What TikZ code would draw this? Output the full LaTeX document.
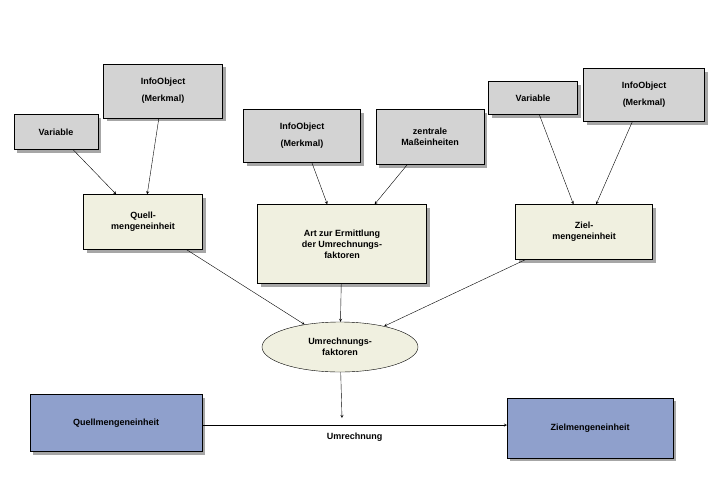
\documentclass[tikz,border=0pt]{standalone}
\usepackage{fontspec}
\setmainfont{Liberation Sans}
\usetikzlibrary{shadows,shapes.geometric}

\definecolor{boxgray}{RGB}{211,211,211}
\definecolor{boxcream}{RGB}{240,240,224}
\definecolor{boxblue}{RGB}{143,160,204}

\tikzset{
  box/.style={draw, inner sep=2pt, align=center, font=\bfseries\small,
    drop shadow={shadow xshift=3pt, shadow yshift=-3pt, fill=gray!70, opacity=1}},
  src/.style={box, fill=boxgray},
  mid/.style={box, fill=boxcream},
  res/.style={box, fill=boxblue},
  arr/.style={->, >=stealth}
}

\begin{document}
\begin{tikzpicture}[x=1pt,y=-1pt]
  \useasboundingbox (0,0) rectangle (720,480);

  % source objects
  \node[src, minimum width=84pt, minimum height=35pt] (varL) at (56,132) {Variable};
  \node[src, minimum width=119pt, minimum height=54pt] (infoL) at (163,91) {InfoObject\\[6pt](Merkmal)};
  \node[src, minimum width=117pt, minimum height=53pt] (infoM) at (302,136) {InfoObject\\[6pt](Merkmal)};
  \node[src, minimum width=108pt, minimum height=55pt] (zentral) at (430,137) {zentrale\\Maßeinheiten};
  \node[src, minimum width=89pt, minimum height=33pt] (varR) at (533,98) {Variable};
  \node[src, minimum width=121pt, minimum height=53pt] (infoR) at (644,95) {InfoObject\\[6pt](Merkmal)};

  % intermediate objects
  \node[mid, minimum width=119pt, minimum height=55pt] (quell) at (143,222) {Quell-\\mengeneinheit};
  \node[mid, minimum width=169pt, minimum height=79pt] (art) at (342,244) {Art zur Ermittlung\\der Umrechnungs-\\faktoren};
  \node[mid, minimum width=137pt, minimum height=55pt] (ziel) at (584,232) {Ziel-\\mengeneinheit};
  \node[ellipse, draw, fill=boxcream, minimum width=156pt, minimum height=50pt,
        align=center, font=\bfseries\small] (faktor) at (340,347) {Umrechnungs-\\faktoren};

  % result objects
  \node[res, minimum width=172pt, minimum height=57pt, anchor=west] (quellE) at (30,423) {Quellmengeneinheit};
  \node[res, minimum width=166pt, minimum height=60pt, anchor=west] (zielE) at (507,428) {Zielmengeneinheit};
  \coordinate (conv) at (342,418);

  \draw[arr] (varL) -- (quell);
  \draw[arr] (infoL) -- (quell);
  \draw[arr] (infoM) -- (art);
  \draw[arr] (zentral) -- (art);
  \draw[arr] (varR) -- (ziel);
  \draw[arr] (infoR) -- (ziel);
  \draw[arr] (quell) -- (faktor);
  \draw[arr] (art) -- (faktor);
  \draw[arr] (ziel) -- (faktor);
  \draw[arr] (faktor) -- (conv);
  \draw[arr] (quellE.east |- 0,425) -- node[below=4pt, font=\bfseries\small] {Umrechnung} (zielE.west |- 0,425);
\end{tikzpicture}
\end{document}
